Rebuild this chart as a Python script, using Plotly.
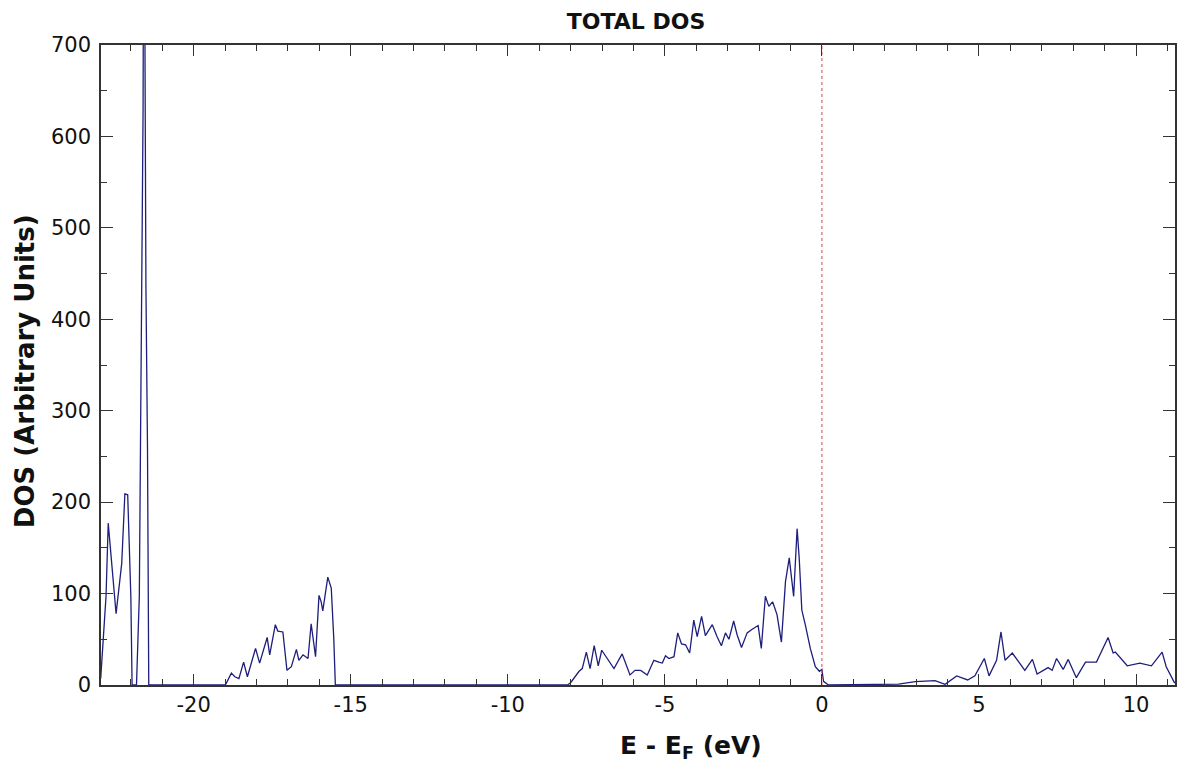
import plotly.graph_objects as go

# Energy (eV, relative to Fermi level) and DOS values
energy_low = [-22.96, -22.79, -22.72, -22.67, -22.47, -22.29, -22.19, -22.10, -22.00, -21.96,
              -21.82, -21.73, -21.63, -21.61, -21.585, -21.52, -21.47, -21.43]
dos_low = [7, 97, 177, 155, 78, 133, 209, 208, 97, 0,
           0, 97, 490, 631, 1000, 437, 260, 0]

energy_mid = [-18.99, -18.80, -18.69, -18.56, -18.41, -18.29, -18.03, -17.90, -17.66, -17.58,
              -17.40, -17.32, -17.16, -17.03, -16.89, -16.73, -16.65, -16.52, -16.36, -16.26,
              -16.12, -16.01, -15.94, -15.89, -15.73, -15.62, -15.54, -15.49]
dos_mid = [0, 13, 9, 7, 25, 9, 40, 24, 52, 33,
           66, 59, 58, 16, 20, 39, 27, 33, 29, 67,
           31, 98, 91, 81, 118, 106, 51, 0]

energy_val = [-8.10, -8.00, -7.73, -7.63, -7.50, -7.38, -7.25, -7.12, -7.01, -6.83,
              -6.62, -6.36, -6.11, -5.95, -5.77, -5.56, -5.35, -5.19, -5.08, -4.98,
              -4.87, -4.71, -4.59, -4.47, -4.34, -4.21, -4.08, -3.97, -3.83, -3.71,
              -3.49, -3.34, -3.20, -3.07, -2.96, -2.81, -2.70, -2.56, -2.38, -2.22,
              -2.03, -1.93, -1.80, -1.69, -1.57, -1.43, -1.29, -1.16, -1.04, -0.90,
              -0.79, -0.72, -0.64, -0.53, -0.37, -0.21, -0.08, 0.00, 0.05, 0.21]
dos_val = [0, 2.5, 15, 18, 36, 18, 43, 21, 38, 29,
           18, 34, 11, 16, 16, 11, 27, 25, 24, 32,
           29, 31, 57, 45, 44, 35, 71, 53, 75, 54,
           66, 53, 43, 57, 50, 70, 55, 41, 57, 61,
           65, 40, 97, 86, 91, 77, 47, 113, 139, 97,
           171, 137, 82, 66, 40, 20, 15, 17, 4, 0]

energy_cond = [1.70, 2.44, 2.97, 3.60, 3.92, 4.29, 4.64, 4.87, 5.17, 5.32,
               5.56, 5.70, 5.83, 6.06, 6.46, 6.70, 6.85, 7.20, 7.33, 7.47,
               7.68, 7.84, 8.10, 8.39, 8.74, 9.11, 9.27, 9.34, 9.72, 10.12,
               10.49, 10.83, 10.96, 11.23]
dos_cond = [1, 1, 3.6, 4.7, 0.7, 10, 5.5, 10, 29, 10,
            27, 58, 27, 35, 16, 28, 12, 19, 16, 29,
            17, 28, 8, 25, 25, 52, 35, 36, 21, 24,
            21, 36, 20, 2]

energy = energy_low + energy_mid + energy_val + energy_cond
dos = dos_low + dos_mid + dos_val + dos_cond

x_tickvals = [-20, -15, -10, -5, 0, 5, 10]
x_ticktext = ["-20", "-15", "-10", "-5", "0", "5", "10"]
y_tickvals = [0, 100, 200, 300, 400, 500, 600, 700]
y_ticktext = ["0", "100", "200", "300", "400", "500", "600", "700"]

x_range = [-22.95, 11.24]
y_range = [0, 700]
fermi_level = 0

FONT = "DejaVu Sans"

fig = go.Figure()
fig.add_trace(go.Scatter(x=energy, y=dos, mode="lines",
                         line=dict(color="#1e1e7c", width=1.3),
                         showlegend=False, hoverinfo="skip"))
fig.add_trace(go.Scatter(x=[fermi_level, fermi_level], y=y_range, mode="lines",
                         line=dict(color="#e04040", width=1, dash="dot"),
                         showlegend=False, hoverinfo="skip"))

axis_common = dict(
    showline=True, linecolor="#333333", linewidth=1.5, mirror="ticks",
    ticks="inside", tickcolor="#333333", tickwidth=1.2,
    showgrid=False, zeroline=False,
    tickfont=dict(family=FONT, size=21, color="#111111"),
)

fig.update_xaxes(range=x_range, tickvals=x_tickvals, ticktext=x_ticktext, ticklen=11,
                 minor=dict(dtick=1, tick0=0, ticklen=6, ticks="inside", tickcolor="#333333", showgrid=False),
                 ticklabelstandoff=0, **axis_common)
fig.update_yaxes(range=y_range, tickvals=y_tickvals, ticktext=y_ticktext, ticklen=12,
                 minor=dict(dtick=50, tick0=0, ticklen=6, ticks="inside", tickcolor="#333333", showgrid=False),
                 ticklabelstandoff=4, **axis_common)

fig.update_layout(
    width=1183, height=770,
    margin=dict(l=101, r=6, t=45, b=85),
    paper_bgcolor="white", plot_bgcolor="white",
    title=dict(text="<b>TOTAL DOS</b>", x=636/1183, xanchor="center", y=1 - 21/770, yanchor="middle",
               font=dict(family=FONT, size=22, color="#111111")),
    annotations=[
        dict(text="<b>E - E<sub>F</sub> (eV)</b>", xref="paper", yref="paper",
             x=(692 - 101) / 1076, y=-(747 - 685) / 640, xanchor="center", yanchor="middle",
             showarrow=False, font=dict(family=FONT, size=25, color="#111111")),
        dict(text="<b>DOS (Arbitrary Units)</b>", xref="paper", yref="paper",
             x=-(101 - 25) / 1076, y=(685 - 371) / 640, xanchor="center", yanchor="middle", textangle=-90,
             showarrow=False, font=dict(family=FONT, size=26, color="#111111")),
    ],
)

fig.write_html("out.html")
